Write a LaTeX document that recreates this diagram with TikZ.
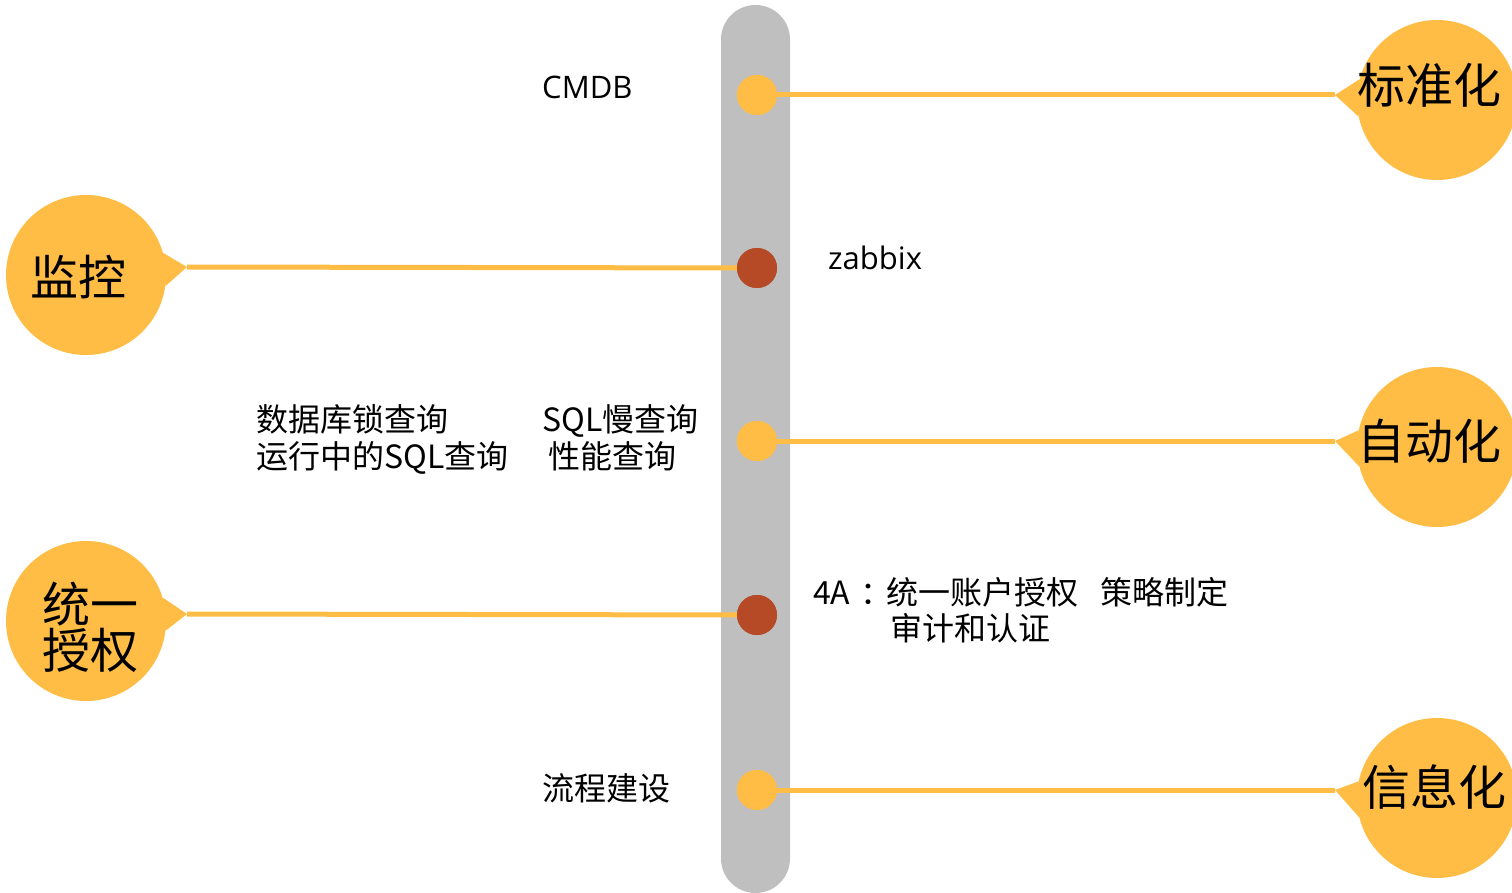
\documentclass[tikz,border=0pt]{standalone}
\usepackage{fontspec}
\setmainfont{Noto Sans CJK SC}
\newfontfamily\lat{Open Sans}
\definecolor{bary}{HTML}{BFBFBF}
\definecolor{yel}{HTML}{FFBD46}
\definecolor{rust}{HTML}{B64926}
\begin{document}
\begin{tikzpicture}[x=1pt,y=-1pt,
  dotY/.style={circle,fill=yel,minimum size=40pt,inner sep=0pt},
  dotR/.style={circle,fill=rust,minimum size=40pt,inner sep=0pt},
  bub/.style={circle,fill=yel,minimum size=160pt,inner sep=0pt},
  conn/.style={draw=yel,line width=5pt},
  big/.style={anchor=base west,inner sep=0pt,font=\fontsize{48}{46}\selectfont,align=left},
  small/.style={anchor=base west,inner sep=0pt,font=\fontsize{32}{37}\selectfont}]
\useasboundingbox (0,0) rectangle (1512,893);
\clip (0,0) rectangle (1512,893);
% spine
\fill[bary,rounded corners=34.5pt] (721,5) rectangle (790,893);
% bubbles
\node[bub] (c1) at (1437,100) {};
\node[bub] (c2) at (86,275) {};
\node[bub] (c3) at (1437,447) {};
\node[bub] (c4) at (86,621) {};
\node[bub] (c5) at (1437,798) {};
% tail tips
\coordinate (t1) at (1335,95);
\coordinate (t2) at (187,267);
\coordinate (t3) at (1335,441);
\coordinate (t4) at (187,614);
\coordinate (t5) at (1335,790);
% dots
\node[dotY] (d1) at (757,95) {};
\node[dotR] (d2) at (757,268) {};
\node[dotY] (d3) at (757,441) {};
\node[dotR] (d4) at (757,615) {};
\node[dotY] (d5) at (757,790) {};
% connectors
\draw[conn] (d1.center) -- (t1);
\draw[conn] (t2) -- (d2.center);
\draw[conn] (d3.center) -- (t3);
\draw[conn] (t4) -- (d4.center);
\draw[conn] (d5.center) -- (t5);
% dots on top
\node[dotY] at (d1) {};
\node[dotR] at (d2) {};
\node[dotY] at (d3) {};
\node[dotR] at (d4) {};
\node[dotY] at (d5) {};
% tails
\fill[yel] (t1) -- (c1.165) -- (c1.192) -- cycle;
\fill[yel] (t2) -- (c2.16) -- (c2.-8) -- cycle;
\fill[yel] (t3) -- (c3.168) -- (c3.194) -- cycle;
\fill[yel] (t4) -- (c4.17) -- (c4.-7) -- cycle;
\fill[yel] (t5) -- (c5.168) -- (c5.194) -- cycle;
% bubble labels
\node[big] (l1) at (1357,104) {标准化};
\node[big] (l2) at (30,295) {监控};
\node[big] (l4) at (42,668) {统一\\授权};
\node[big] (l3) at (1357,459) {自动化};
\node[big] (l5) at (1362,805) {信息化};
% annotations
\node[small] (a1) at (542,99) {\lat\fontsize{31}{37}\selectfont CMDB};
\node[small] (a2) at (828,270) {\lat\fontsize{31}{37}\selectfont zabbix};
\node[small] (a3) at (256,431) {数据库锁查询};
\node[small] (a4) at (256,468) {运行中的SQL查询};
\node[small] (a5) at (542,431) {SQL慢查询};
\node[small] (a6) at (548,468) {性能查询};
\node[small] (a7) at (813,604) {4A\hspace{10pt}：\hspace{-6pt}统一账户授权\hspace{22pt}策略制定};
\node[small] (a8) at (890,640) {审计和认证};
\node[small] (a9) at (542,800) {流程建设};
\end{tikzpicture}
\end{document}
